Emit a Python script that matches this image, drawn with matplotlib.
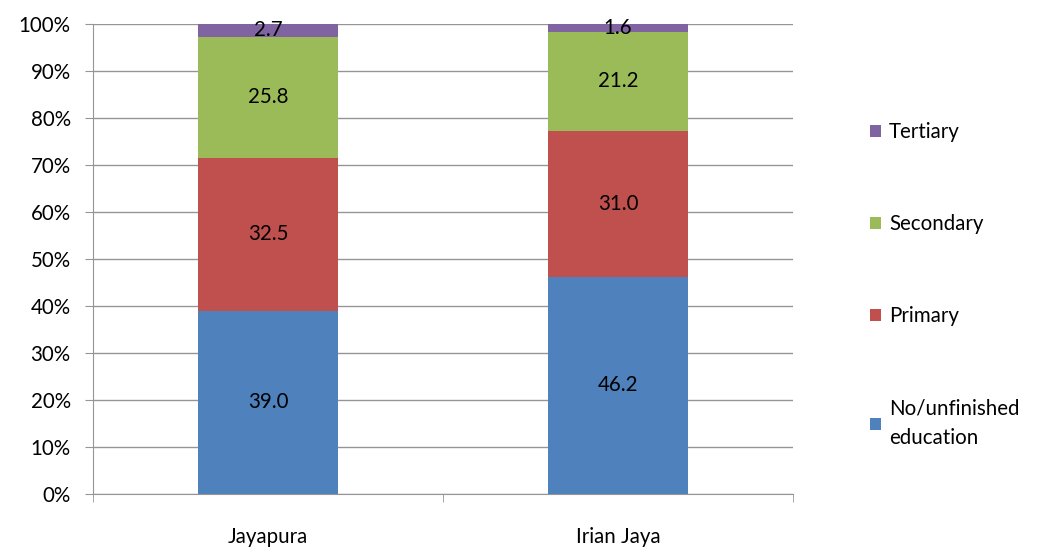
import matplotlib.pyplot as plt
import numpy as np

# data
regions = ['Jayapura', 'Irian Jaya']
levels = ['No/unfinished\neducation', 'Primary', 'Secondary', 'Tertiary']
no_edu = [39.0, 46.2]
primary = [32.5, 31.0]
secondary = [25.8, 21.2]
tertiary = [2.7, 1.6]
colors = ['#4F81BD', '#C0504D', '#9BBB59', '#8064A2']

plt.rcParams['font.family'] = ['Lato', 'DejaVu Sans']
fs = 14.8
grey = '#959595'

fig = plt.figure(figsize=(10.45, 5.48), dpi=100)
ax = fig.add_axes([93 / 1045, 1 - 494 / 548, 700 / 1045, 470 / 548])

x = np.arange(len(regions))
bottom = np.zeros(len(regions))
handles = []
for vals, col, lab in zip([no_edu, primary, secondary, tertiary], colors, levels):
    vals = np.array(vals)
    b = ax.bar(x, vals, 0.4, bottom=bottom, color=col, label=lab, zorder=3)
    handles.append(b)
    for xi, v, bt in zip(x, vals, bottom):
        ax.text(xi, bt + v / 2, f'{v:.1f}', ha='center', va='center',
                fontsize=fs, color='black', zorder=4)
    bottom += vals

ax.set_xlim(-0.5, 1.5)
ax.set_ylim(0, 100)
ax.set_yticks(np.arange(0, 101, 10))
ax.set_yticklabels([f'{t}%' for t in range(0, 101, 10)], fontsize=fs)
ax.yaxis.grid(True, color=grey, linewidth=1.0, zorder=0)
ax.set_xticks(x)
ax.set_xticklabels(regions, fontsize=fs)
ax.tick_params(axis='x', length=0, pad=24)
ax.set_xticks([-0.5, 0.5, 1.5], minor=True)
ax.tick_params(axis='x', which='minor', length=6, color=grey)
ax.tick_params(axis='y', length=6, color=grey, pad=10)
for s in ['top', 'right']:
    ax.spines[s].set_visible(False)
for s in ['left', 'bottom']:
    ax.spines[s].set_color(grey)

leg = fig.legend(handles[::-1], levels[::-1], loc='upper left',
                 bbox_to_anchor=(851 / 1045, 1 - 104 / 548), frameon=False,
                 fontsize=fs, handlelength=0.55, handleheight=0.55,
                 handletextpad=0.4, labelspacing=3.5)
for t in leg.get_texts():
    t.set_linespacing(1.6)

fig.savefig('out.png', dpi=100)
